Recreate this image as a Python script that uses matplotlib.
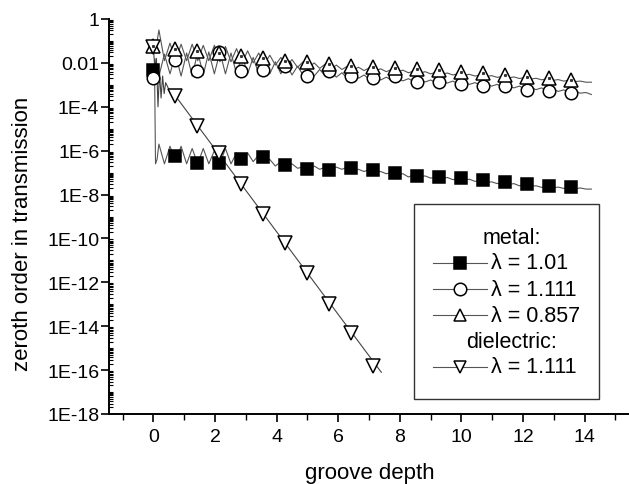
import numpy as np
import matplotlib
matplotlib.use("Agg")
import matplotlib.pyplot as plt
from matplotlib.ticker import LogLocator, FixedLocator, FuncFormatter, NullFormatter
from matplotlib.lines import Line2D
from matplotlib.patches import Rectangle

plt.rcParams['font.family'] = ['Liberation Sans', 'DejaVu Sans']

# marker positions (groove depth)
x_mark = [0.0, 0.714, 1.428, 2.142, 2.856, 3.57, 4.284, 4.998, 5.712, 6.426,
          7.14, 7.854, 8.568, 9.282, 9.996, 10.71, 11.424, 12.138, 12.852, 13.566]

# log10 of zeroth order transmission at the markers
metal_101_mark = [-2.32, -6.24, -6.57, -6.57, -6.38, -6.30, -6.65, -6.84, -6.88, -6.79,
                  -6.88, -7.03, -7.17, -7.20, -7.25, -7.33, -7.41, -7.52, -7.60, -7.64]
metal_1111_mark = [-2.70, -1.87, -2.36, -1.52, -2.36, -2.33, -2.13, -2.58, -2.36, -2.61,
                   -2.69, -2.61, -2.86, -2.86, -2.96, -3.07, -3.07, -3.22, -3.27, -3.37]
metal_0857_mark = [-1.22, -1.37, -1.47, -1.55, -1.70, -1.79, -1.91, -1.97, -2.05, -2.13,
                   -2.20, -2.25, -2.30, -2.33, -2.40, -2.46, -2.55, -2.63, -2.69, -2.77]
diel_mark = [-1.29, -3.50, -4.86, -6.10, -7.52, -8.89, -10.20, -11.58, -12.99, -14.31, -15.80]

# continuous curves (log10), sampled every 0.18 in groove depth
x_line = 0.18 * np.arange(1, 80)

metal_101_line = [-5.7, -6.6, -5.8, -6.5, -5.8, -6.6, -5.9, -6.6, -5.9, -6.6,
                  -6.0, -6.6, -5.9, -6.6, -6.1, -6.5, -6.1, -6.5, -6.2, -6.45,
                  -6.4, -6.7, -6.5, -6.75, -6.6, -6.8, -6.75, -6.9, -6.7, -6.85,
                  -6.75, -6.9, -6.75, -6.85, -6.75, -6.85, -6.85, -6.95, -6.85, -6.95,
                  -6.95, -7.05, -7.0, -7.1, -7.05, -7.2, -7.1, -7.2, -7.15, -7.25,
                  -7.2, -7.28, -7.22, -7.32, -7.28, -7.35, -7.3, -7.4, -7.35, -7.45,
                  -7.42, -7.5, -7.45, -7.55, -7.5, -7.6, -7.55, -7.62, -7.6, -7.67,
                  -7.63, -7.7, -7.66, -7.72, -7.68, -7.74, -7.7, -7.75, -7.75]
metal_1111_line = [-2.6, -1.6, -2.5, -1.6, -2.6, -1.55, -2.6, -1.5, -2.55, -1.5,
                   -2.5, -1.5, -2.5, -1.55, -2.5, -1.65, -2.5, -1.75, -2.5, -1.85,
                   -2.5, -1.95, -2.5, -2.05, -2.55, -2.15, -2.55, -2.25, -2.6, -2.3,
                   -2.6, -2.4, -2.65, -2.45, -2.7, -2.5, -2.7, -2.55, -2.75, -2.6,
                   -2.78, -2.65, -2.8, -2.7, -2.82, -2.72, -2.85, -2.75, -2.87, -2.78,
                   -2.9, -2.8, -2.92, -2.83, -2.95, -2.87, -2.98, -2.9, -3.02, -2.94,
                   -3.06, -2.98, -3.1, -3.02, -3.14, -3.06, -3.18, -3.1, -3.22, -3.14,
                   -3.26, -3.18, -3.3, -3.23, -3.34, -3.28, -3.38, -3.35, -3.44]
metal_0857_line = [-0.5, -1.9, -1.1, -1.9, -1.15, -1.9, -1.15, -1.9, -1.2, -1.9,
                   -1.2, -1.95, -1.25, -1.95, -1.35, -2.0, -1.45, -2.0, -1.55, -2.05,
                   -1.65, -2.1, -1.75, -2.15, -1.85, -2.2, -1.95, -2.2, -2.0, -2.25,
                   -2.05, -2.28, -2.1, -2.3, -2.15, -2.32, -2.2, -2.35, -2.22, -2.37,
                   -2.27, -2.4, -2.3, -2.42, -2.33, -2.45, -2.37, -2.48, -2.4, -2.5,
                   -2.43, -2.53, -2.46, -2.55, -2.49, -2.57, -2.52, -2.6, -2.55, -2.63,
                   -2.58, -2.66, -2.61, -2.69, -2.64, -2.71, -2.67, -2.74, -2.7, -2.77,
                   -2.73, -2.8, -2.76, -2.83, -2.79, -2.85, -2.83, -2.88, -2.88]

# start of each curve near zero depth
metal_101_head_x = [0.0, 0.04, 0.07, 0.12]
metal_101_head_y = [-2.32, -2.5, -6.6, -6.4]
metal_1111_head_x = [0.0, 0.05, 0.1]
metal_1111_head_y = [-2.7, -1.8, -2.4]
metal_0857_head_x = [0.0, 0.08]
metal_0857_head_y = [-1.22, -1.4]
diel_line_x = [0.0, 0.05, 0.1, 0.15, 0.2, 0.25, 0.3, 0.35, 0.4, 0.5, 0.6, 0.714, 7.4]
diel_line_y = [-1.29, -2.3, -1.8, -4.0, -2.4, -3.6, -2.6, -3.4, -2.9, -3.2, -3.3, -3.5, -16.1]

W, H = 629, 485
fig = plt.figure(figsize=(W / 100, H / 100), dpi=100)
ax = fig.add_axes([109 / W, 1 - 415 / H, 1 - 109 / W, (415 - 20) / H])

line_c = '#555555'
lw = 0.8

def curve(hx, hy, ly):
    x = np.concatenate([hx, x_line])
    y = np.concatenate([hy, ly])
    return x, 10.0 ** y

for hx, hy, ly in [(metal_101_head_x, metal_101_head_y, metal_101_line),
                   (metal_1111_head_x, metal_1111_head_y, metal_1111_line),
                   (metal_0857_head_x, metal_0857_head_y, metal_0857_line)]:
    x, y = curve(hx, hy, ly)
    ax.plot(x, y, color=line_c, lw=lw, zorder=2)
ax.plot(diel_line_x, 10.0 ** np.array(diel_line_y), color='#444444', lw=lw, zorder=2)

xm = np.array(x_mark)
ms_kw = dict(ls='none', markeredgecolor='black', markeredgewidth=1.1, zorder=3)
ax.plot(xm, 10.0 ** np.array(metal_101_mark), marker='s', ms=8.5, markerfacecolor='black', **ms_kw)
ax.plot(xm, 10.0 ** np.array(metal_1111_mark), marker='o', ms=9, markerfacecolor='white', **ms_kw)
ax.plot(xm, 10.0 ** np.array(metal_0857_mark), marker='^', ms=10, markerfacecolor='white', **ms_kw)
ax.plot(xm, 10.0 ** np.array(metal_0857_mark), marker='s', ms=1.2, color='#333333',
        ls='none', zorder=4)
ax.plot(xm[:len(diel_mark)], 10.0 ** np.array(diel_mark), marker='v', ms=10, markerfacecolor='white', **ms_kw)

ax.set_yscale('log')
ax.set_ylim(1e-18, 1)
ax.set_xlim(-1.44, 15.44)

for s in ['top', 'right']:
    ax.spines[s].set_visible(False)
for s in ['left', 'bottom']:
    ax.spines[s].set_linewidth(1.4)

def ylab(v, pos):
    e = int(round(np.log10(v)))
    if e == 0:
        return '1'
    if e == -2:
        return '0.01'
    return '1E%d' % e

ax.yaxis.set_major_locator(FixedLocator([10.0 ** e for e in range(-18, 1, 2)]))
ax.yaxis.set_major_formatter(FuncFormatter(ylab))
ax.yaxis.set_minor_locator(LogLocator(base=10, subs=np.arange(1, 10), numticks=100))
ax.yaxis.set_minor_formatter(NullFormatter())
ax.tick_params(axis='y', which='major', direction='out', length=6, width=1.2, labelsize=14, pad=1)
ax.tick_params(axis='y', which='minor', direction='in', length=3, width=0.8)

ax.set_xticks(range(0, 15, 2))
ax.set_xticks(range(-1, 16, 2), minor=True)
ax.tick_params(axis='x', which='major', direction='out', length=6, width=1.2, labelsize=14, pad=4)
ax.tick_params(axis='x', which='minor', direction='out', length=4, width=1.0)

fig.text(23 / W, 1 - 234 / H, 'zeroth order in transmission', rotation=90,
         ha='center', va='center', fontsize=16)
fig.text(370 / W, 1 - 474 / H, 'groove depth', ha='center', va='center', fontsize=16)

# legend box drawn in figure pixels
def fx(px):
    return px / W

def fy(py):
    return 1 - py / H

fig.patches.append(Rectangle((fx(414), fy(400)), fx(599) - fx(414), fy(205) - fy(400),
                             transform=fig.transFigure, fill=False, edgecolor='#333333', lw=1.0))

rows = [('metal:', None, 238), ('λ = 1.01', ('s', 'black'), 264),
        ('λ = 1.111', ('o', 'white'), 290), ('λ = 0.857', ('^', 'white'), 316),
        ('dielectric:', None, 342), ('λ = 1.111', ('v', 'white'), 368)]
for label, mk, py in rows:
    if mk is None:
        fig.text(fx(512), fy(py), label, ha='center', va='center', fontsize=15.5)
    else:
        fig.lines.append(Line2D([fx(433), fx(487)], [fy(py), fy(py)], transform=fig.transFigure,
                                color=line_c, lw=lw))
        fig.lines.append(Line2D([fx(460)], [fy(py)], transform=fig.transFigure, marker=mk[0],
                                ms=9 if mk[0] != 's' else 8.5, markerfacecolor=mk[1],
                                markeredgecolor='black', markeredgewidth=1.1, ls='none'))
        fig.text(fx(491), fy(py), label, ha='left', va='center', fontsize=15.5)

fig.savefig('out.png', dpi=100)
